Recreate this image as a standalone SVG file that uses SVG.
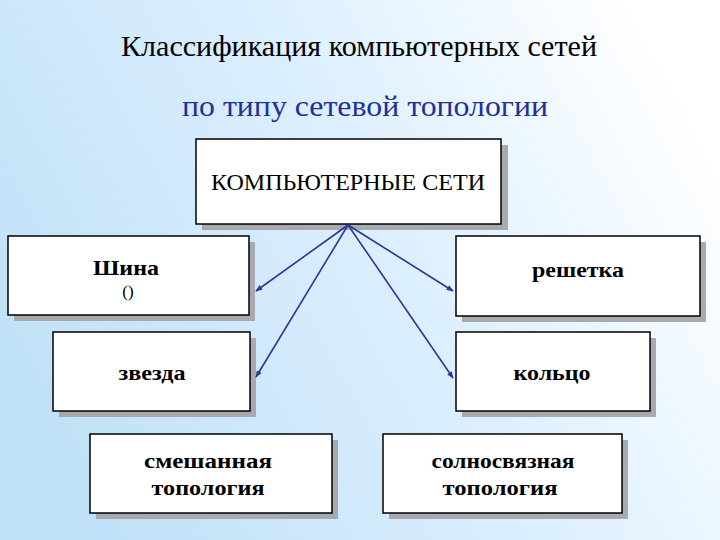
<svg xmlns="http://www.w3.org/2000/svg" width="720" height="540" viewBox="0 0 720 540">
<defs>
<linearGradient id="bg" x1="0" y1="0.7" x2="1" y2="0.3">
<stop offset="0" stop-color="#bfe0f7"/>
<stop offset="0.55" stop-color="#dcefff"/>
<stop offset="1" stop-color="#ffffff"/>
</linearGradient>
<marker id="ah" viewBox="0 0 10 10" refX="9" refY="5" markerWidth="7" markerHeight="7" orient="auto" markerUnits="userSpaceOnUse">
<path d="M0,1 L10,5 L0,9 z" fill="#2a3699"/>
</marker>
<style>
.shadow{fill:#a7abb0}
.box{fill:#ffffff;stroke:#000000;stroke-width:1.5}
text{font-family:'Liberation Serif','Times New Roman',serif;fill:#000;text-anchor:middle}
.b{font-weight:bold;font-size:22px}
.conn line{stroke:#2a3699;stroke-width:1.6;marker-end:url(#ah)}
</style>
</defs>
<rect width="720" height="540" fill="url(#bg)"/>
<text x="359" y="56" font-size="29" textLength="476" lengthAdjust="spacingAndGlyphs">Классификация компьютерных сетей</text>
<text x="365" y="116" font-size="30" style="fill:#22309a" textLength="366" lengthAdjust="spacingAndGlyphs">по типу сетевой топологии</text>

<g id="root">
<rect class="shadow" x="202" y="145" width="306" height="85"/>
<rect class="box" x="196" y="139" width="305" height="85"/>
<text x="348" y="190" font-size="23" textLength="274" lengthAdjust="spacingAndGlyphs">КОМПЬЮТЕРНЫЕ СЕТИ</text>
</g>
<g id="bus">
<rect class="shadow" x="14" y="242" width="241" height="79"/>
<rect class="box" x="8" y="236" width="241" height="79"/>
<text class="b" x="126" y="275" textLength="66" lengthAdjust="spacingAndGlyphs">Шина</text>
<text x="128" y="297" font-size="17">()</text>
</g>
<g id="grid">
<rect class="shadow" x="462" y="242" width="244" height="80"/>
<rect class="box" x="456" y="236" width="244" height="80"/>
<text class="b" x="578" y="277" textLength="92" lengthAdjust="spacingAndGlyphs">решетка</text>
</g>
<g id="star">
<rect class="shadow" x="59" y="338" width="197" height="79"/>
<rect class="box" x="53" y="332" width="197" height="79"/>
<text class="b" x="152" y="380" textLength="67" lengthAdjust="spacingAndGlyphs">звезда</text>
</g>
<g id="ring">
<rect class="shadow" x="462" y="338" width="194" height="79"/>
<rect class="box" x="456" y="332" width="194" height="79"/>
<text class="b" x="552" y="380" textLength="77" lengthAdjust="spacingAndGlyphs">кольцо</text>
</g>
<g id="mixed">
<rect class="shadow" x="96" y="440" width="242" height="79"/>
<rect class="box" x="90" y="434" width="242" height="79"/>
<text class="b" x="208" y="468" textLength="128" lengthAdjust="spacingAndGlyphs">смешанная</text>
<text class="b" x="208" y="495" textLength="113" lengthAdjust="spacingAndGlyphs">топология</text>
</g>
<g id="full">
<rect class="shadow" x="389" y="440" width="239" height="79"/>
<rect class="box" x="383" y="434" width="239" height="79"/>
<text class="b" x="503" y="468" textLength="143" lengthAdjust="spacingAndGlyphs">солносвязная</text>
<text class="b" x="500" y="495" textLength="115" lengthAdjust="spacingAndGlyphs">топология</text>
</g>

<g class="conn">
<line x1="348" y1="225" x2="256" y2="291"/>
<line x1="348" y1="225" x2="256" y2="377"/>
<line x1="348" y1="225" x2="453" y2="291"/>
<line x1="348" y1="225" x2="453" y2="378"/>
</g>
</svg>
